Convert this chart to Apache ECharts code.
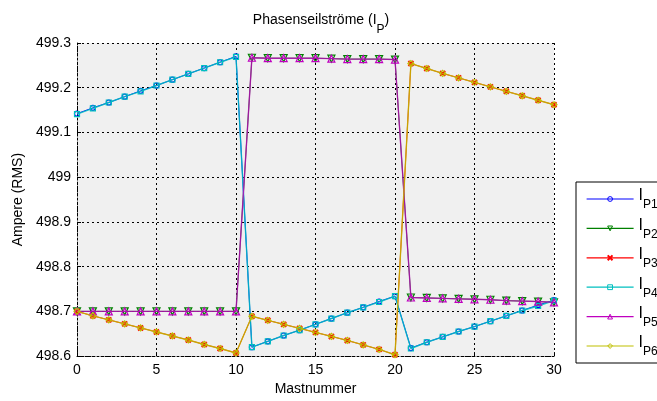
<!DOCTYPE html>
<html><head><meta charset="utf-8">
<script src="https://cdn.jsdelivr.net/npm/echarts@6/dist/echarts.min.js"></script>
<style>html,body{margin:0;padding:0;background:#fff}#c{width:657px;height:401px}</style>
</head><body><div id="c"></div>
<script>
const masts = [0,1,2,3,4,5,6,7,8,9,10,11,12,13,14,15,16,17,18,19,20,21,22,23,24,25,26,27,28,29,30];
const seriesNames = ['P1','P2','P3','P4','P5','P6'];
const xTicks = [0,5,10,15,20,25,30];
const yTicks = [498.6,498.7,498.8,498.9,499,499.1,499.2,499.3];
const iP1 = [499.142,499.155,499.167,499.180,499.193,499.205,499.218,499.231,499.244,499.257,499.270,
             498.620,498.633,498.646,498.658,498.671,498.684,498.697,498.709,498.722,498.734,
             498.618,498.631,498.643,498.655,498.666,498.678,498.690,498.702,498.714,498.725];
const iP2 = [498.700,498.700,498.700,498.700,498.700,498.700,498.700,498.700,498.700,498.700,498.700,
             499.267,499.266,499.266,499.266,499.266,499.265,499.264,499.264,499.264,499.263,
             498.731,498.730,498.729,498.728,498.727,498.726,498.724,498.723,498.722,498.720];
const iP3 = [498.700,498.690,498.681,498.672,498.663,498.654,498.645,498.636,498.626,498.617,498.607,
             498.689,498.680,498.671,498.662,498.653,498.644,498.635,498.625,498.615,498.603,
             499.254,499.243,499.232,499.222,499.212,499.202,499.192,499.182,499.172,499.162];
const iP4 = [499.141,499.154,499.167,499.180,499.192,499.205,499.218,499.231,499.244,499.257,499.269,
             498.620,498.633,498.646,498.658,498.671,498.684,498.697,498.709,498.721,498.734,
             498.617,498.631,498.643,498.655,498.666,498.678,498.690,498.702,498.712,498.724];
const iP5 = [498.700,498.700,498.700,498.700,498.700,498.700,498.700,498.700,498.700,498.700,498.700,
             499.267,499.266,499.266,499.266,499.266,499.265,499.264,499.264,499.264,499.263,
             498.731,498.730,498.729,498.728,498.727,498.726,498.724,498.723,498.722,498.720];
const iP6 = [498.700,498.690,498.681,498.672,498.663,498.654,498.645,498.636,498.626,498.617,498.607,
             498.689,498.680,498.671,498.662,498.653,498.644,498.635,498.625,498.615,498.603,
             499.254,499.243,499.232,499.222,499.212,499.202,499.192,499.182,499.172,499.162];

const values = [iP1,iP2,iP3,iP4,iP5,iP6];
const colors = ['#0000ff','#008000','#ff0000','#00bfbf','#bf00bf','#bfbf00'];
const symbols = ['circle','triangle','emptyPath://M0,0L10,10M10,0L0,10','rect','triangle','diamond'];
const rotates = [0,180,0,0,0,0];
const sizes = [5,7,5,5,7,6];
const lineOpacity = [1,1,1,0.85,0.8,0.82];
const lineWidth = [1,1,1,1.4,1.4,1.4];
const FONT = '"Liberation Sans", Arial, Helvetica, sans-serif';

const chart = echarts.init(document.getElementById('c'), null, {renderer:'canvas'});
const series = seriesNames.map((n,k)=>({
  name: n,
  type: 'line',
  data: masts.map((m,i)=>[m, values[k][i]]),
  symbol: symbols[k],
  symbolRotate: rotates[k],
  symbolSize: sizes[k],
  showSymbol: true,
  animation: false,
  lineStyle: {color: colors[k], width: lineWidth[k], opacity: lineOpacity[k]},
  itemStyle: {color: k===2 ? colors[k] : 'rgba(0,0,0,0)', borderColor: colors[k], borderWidth: 1.2},
  emphasis: {disabled: true},
  z: 2 + k
}));

chart.setOption({
  animation: false,
  textStyle: {fontFamily: FONT},
  title: {
    text: '{a|Phasenseilströme (I}{b|P}{a|)}',
    left: 316, textAlign: 'center', top: 8,
    textStyle: {
      fontWeight: 'normal',
      rich: {
        a: {fontFamily: FONT, fontSize: 14, fontWeight: 'normal', color: '#000', lineHeight: 22, verticalAlign: 'top', padding:[0,0,6,0]},
        b: {fontFamily: FONT, fontSize: 12, fontWeight: 'normal', color: '#000', lineHeight: 12, padding:[12,0,0,0]}
      }
    }
  },
  grid: {left: 77, right: 103, top: 43, bottom: 40, show: true, backgroundColor: '#f0f0f0', borderWidth: 0},
  legend: {
    orient: 'vertical', left: 576, top: 182,
    padding: [5, 12, 5, 10],
    itemGap: 5.4, itemWidth: 47, itemHeight: 6,
    backgroundColor: '#fff', borderColor: '#000', borderWidth: 1, borderRadius: 0,
    lineStyle: {width: 1.2, opacity: 1},
    itemStyle: {borderWidth: 1},
    data: seriesNames,
    formatter: n => '{i|I}{s|' + n + '}',
    textStyle: {
      rich: {
        i: {fontFamily: FONT, fontSize: 16, color: '#000', lineHeight: 18, padding:[0,0,6,0]},
        s: {fontFamily: FONT, fontSize: 12, color: '#000', lineHeight: 12, padding:[12,0,0,0]}
      }
    }
  },
  xAxis: {
    type: 'value', min: 0, max: 30, interval: 5,
    name: 'Mastnummer', nameLocation: 'middle', nameGap: 24,
    nameTextStyle: {fontFamily: FONT, fontSize: 14, color: '#000'},
    axisLine: {show: true, lineStyle: {color: '#000', width: 1, type: [2,2]}},
    axisTick: {show: true, inside: true, length: 4, lineStyle: {color: '#000'}},
    axisLabel: {fontFamily: FONT, fontSize: 14, color: '#000', margin: 7,
      formatter: v => xTicks.indexOf(v) >= 0 ? String(v) : ''},
    splitLine: {show: true, lineStyle: {color: '#000', width: 1, type: [2,3]}}
  },
  yAxis: {
    type: 'value', min: 498.6, max: 499.3, interval: 0.1,
    name: 'Ampere (RMS)', nameLocation: 'middle', nameGap: 52, nameRotate: 90,
    nameTextStyle: {fontFamily: FONT, fontSize: 14, color: '#000'},
    axisLine: {show: true, lineStyle: {color: '#000', width: 1, type: [2,2]}},
    axisTick: {show: true, inside: true, length: 4, lineStyle: {color: '#000'}},
    axisLabel: {fontFamily: FONT, fontSize: 14, color: '#000', margin: 6,
      formatter: v => String(Math.round(v*10)/10)},
    splitLine: {show: true, lineStyle: {color: '#000', width: 1, type: [2,3]}}
  },
  series: series
});
</script>
</body></html>
